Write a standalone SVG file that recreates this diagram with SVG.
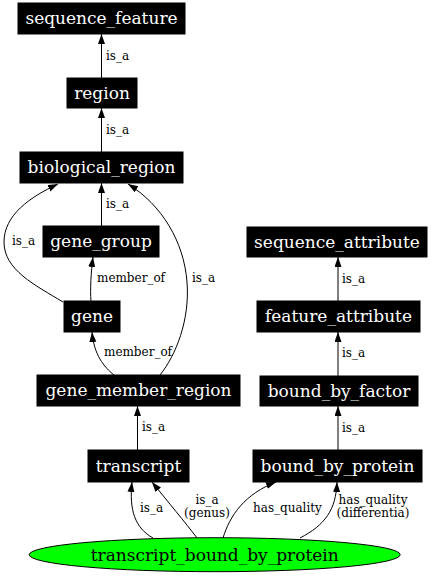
<svg xmlns="http://www.w3.org/2000/svg" width="432" height="576" viewBox="0 0 432 576">
<style>
.box{fill:#000;stroke:#000;stroke-width:1}
.nt{font-family:"DejaVu Serif",serif;font-size:17px;fill:#fff;text-anchor:middle}
.et{font-family:"DejaVu Serif",serif;font-size:12px;fill:#000}
.e{fill:none;stroke:#000;stroke-width:1;marker-end:url(#arr)}
</style>
<defs>
<marker id="arr" markerUnits="userSpaceOnUse" markerWidth="10" markerHeight="8" refX="10" refY="3.5" orient="auto">
<path d="M0,0 L10,3.5 L0,7 z" fill="#000"/>
</marker>
</defs>
<rect width="432" height="576" fill="#fff"/>
<g id="edges">
<path class="e" d="M101.5,78 L101.5,34"/>
<path class="e" d="M101.5,152 L101.5,108"/>
<path class="e" d="M101.5,226 L101.5,183"/>
<path class="e" d="M63,302 C35,285 4,270 4,242 C4,215 30,197 58,184"/>
<path class="e" d="M91,301 C90,290 91,272 93,257"/>
<path class="e" d="M114,375 C104,367 94,355 92,332"/>
<path class="e" d="M160,375 C176,355 190,320 187,282 C184,242 162,205 128,184"/>
<path class="e" d="M137.5,450 L137.5,406"/>
<path class="e" d="M338,301 L338,257"/>
<path class="e" d="M338,376 L338,332"/>
<path class="e" d="M338,450 L338,406"/>
<path class="e" d="M153,538 C135,528 129,510 132,482"/>
<path class="e" d="M197,538 C185,522 168,502 152,482"/>
<path class="e" d="M223,538 C230,515 245,494 276,482"/>
<path class="e" d="M300,538 C325,525 336,510 337,482"/>
<text class="et" x="106" y="60">is_a</text>
<text class="et" x="106" y="134">is_a</text>
<text class="et" x="106" y="208">is_a</text>
<text class="et" x="12" y="245">is_a</text>
<text class="et" x="97" y="282">member_of</text>
<text class="et" x="104" y="356">member_of</text>
<text class="et" x="192" y="282">is_a</text>
<text class="et" x="142" y="431">is_a</text>
<text class="et" x="342" y="283">is_a</text>
<text class="et" x="342" y="357">is_a</text>
<text class="et" x="342" y="432">is_a</text>
<text class="et" x="140" y="512">is_a</text>
<text class="et" x="207" y="503.5" text-anchor="middle">is_a</text>
<text class="et" x="207" y="517" text-anchor="middle">(genus)</text>
<text class="et" x="253" y="512">has_quality</text>
<text class="et" x="373" y="503.5" text-anchor="middle">has_quality</text>
<text class="et" x="373" y="517" text-anchor="middle">(differentia)</text>
</g>
<g id="sequence_feature"><rect class="box" x="18" y="3" width="167" height="31"/><text class="nt" x="101.5" y="24">sequence_feature</text></g>
<g id="region"><rect class="box" x="67" y="78" width="70" height="30"/><text class="nt" x="102" y="98.5">region</text></g>
<g id="biological_region"><rect class="box" x="20" y="152" width="163" height="31"/><text class="nt" x="101.5" y="173">biological_region</text></g>
<g id="gene_group"><rect class="box" x="43" y="226" width="116" height="31"/><text class="nt" x="101" y="247">gene_group</text></g>
<g id="gene"><rect class="box" x="64" y="301" width="56" height="31"/><text class="nt" x="92" y="322">gene</text></g>
<g id="gene_member_region"><rect class="box" x="37" y="375" width="203" height="31"/><text class="nt" x="138.5" y="396">gene_member_region</text></g>
<g id="transcript"><rect class="box" x="88" y="450" width="101" height="32"/><text class="nt" x="138.5" y="471.5">transcript</text></g>
<g id="bound_by_protein"><rect class="box" x="253" y="450" width="169" height="32"/><text class="nt" x="337.5" y="471.5">bound_by_protein</text></g>
<g id="bound_by_factor"><rect class="box" x="260" y="376" width="158" height="30"/><text class="nt" x="339" y="396.5">bound_by_factor</text></g>
<g id="feature_attribute"><rect class="box" x="257" y="301" width="163" height="31"/><text class="nt" x="338.5" y="322">feature_attribute</text></g>
<g id="sequence_attribute"><rect class="box" x="247" y="227" width="180" height="30"/><text class="nt" x="337" y="247.5">sequence_attribute</text></g>
<g id="transcript_bound_by_protein"><ellipse cx="214.7" cy="554.7" rx="185.5" ry="17" fill="#00ff00" stroke="#000" stroke-width="1"/><text class="nt" x="214.7" y="561" style="fill:#000">transcript_bound_by_protein</text></g>
</svg>
